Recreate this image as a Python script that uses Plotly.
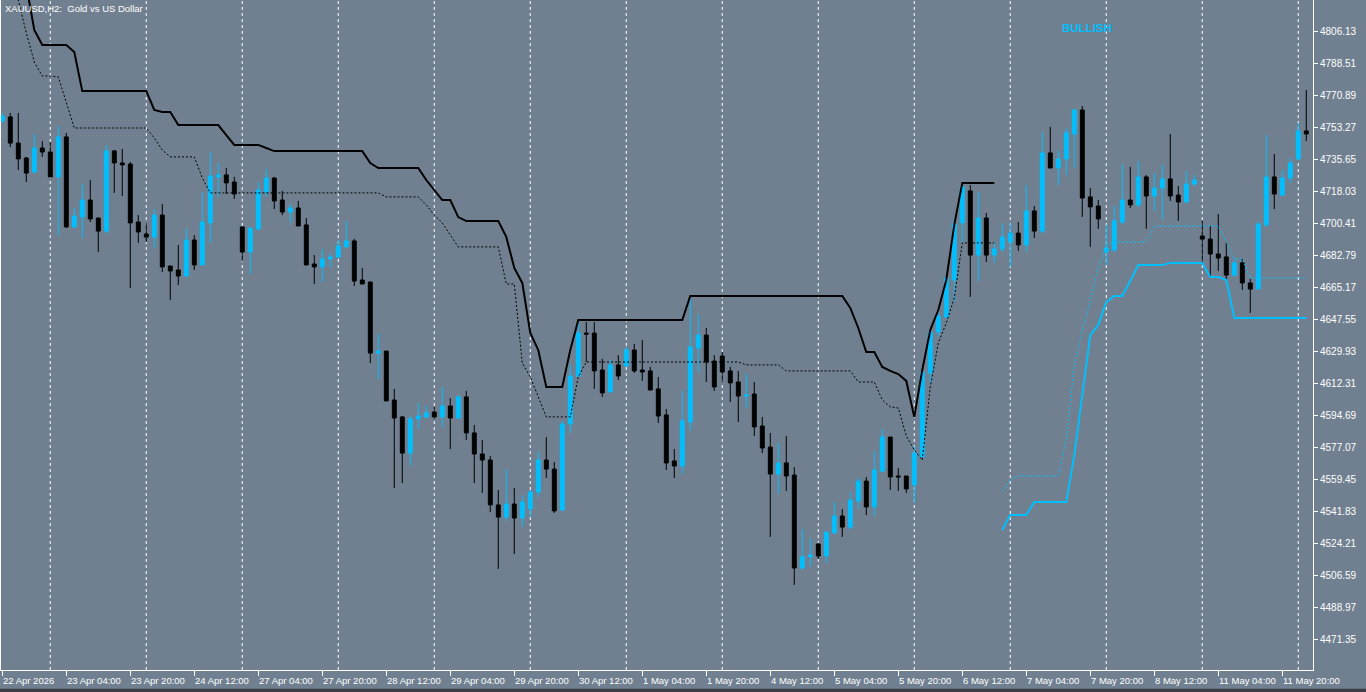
import plotly.graph_objects as go

# XAUUSD H2 bars, index 0..163 (gold vs US dollar)
opens = [4756.7, 4758.9, 4744.5, 4736.3, 4728.6, 4741.8, 4739.6, 4725.9, 4747.9, 4698.4,
         4703.9, 4713.2, 4703.3, 4696.1, 4740.2, 4733.6, 4733.0, 4701.1, 4694.5, 4692.8,
         4704.9, 4676.9, 4674.7, 4671.4, 4691.2, 4677.5, 4700.6, 4725.9, 4727.0, 4723.1,
         4698.4, 4684.6, 4697.2, 4717.6, 4725.3, 4713.2, 4706.6, 4708.8, 4699.5, 4678.0,
         4676.4, 4680.8, 4681.9, 4687.4, 4690.7, 4669.2, 4668.1, 4629.0, 4630.1, 4603.2,
         4593.9, 4574.0, 4592.8, 4593.9, 4596.6, 4593.9, 4599.9, 4593.3, 4604.9, 4585.1,
         4573.5, 4570.2, 4545.5, 4538.8, 4546.0, 4538.3, 4543.2, 4552.6, 4570.2, 4565.2,
         4542.7, 4590.0, 4616.4, 4640.0, 4640.0, 4619.7, 4607.6, 4622.5, 4621.9, 4630.7,
         4619.7, 4619.2, 4609.3, 4595.0, 4569.7, 4566.9, 4591.1, 4631.8, 4638.9, 4624.6,
         4627.4, 4619.2, 4613.1, 4605.4, 4606.5, 4588.9, 4577.3, 4562.5, 4568.6, 4561.9,
         4510.8, 4516.9, 4524.0, 4517.4, 4530.1, 4539.4, 4533.3, 4547.6, 4558.6, 4544.4,
         4564.1, 4582.8, 4561.4, 4561.4, 4556.5, 4571.9, 4618.1, 4640.6, 4648.8, 4669.2,
         4700.6, 4718.2, 4682.9, 4703.3, 4682.9, 4686.3, 4690.1, 4695.0, 4688.5, 4707.2,
         4696.1, 4739.1, 4730.8, 4735.8, 4749.5, 4762.7, 4714.9, 4709.9, 4684.6, 4685.7,
         4701.1, 4713.2, 4710.5, 4725.9, 4715.4, 4719.8, 4724.8, 4715.9, 4712.1, 4722.0,
         4693.4, 4691.7, 4683.5, 4681.9, 4671.9, 4678.6, 4667.6, 4664.2, 4699.5, 4725.9,
         4715.9, 4725.3, 4735.8, 4751.2]
highs = [4761.1, 4761.1, 4761.1, 4736.9, 4749.5, 4745.6, 4745.1, 4753.9, 4750.1, 4708.8,
         4722.0, 4724.2, 4703.3, 4743.5, 4740.7, 4741.3, 4734.1, 4704.9, 4700.5, 4708.2,
         4711.0, 4676.9, 4688.5, 4697.8, 4693.9, 4717.6, 4739.6, 4733.6, 4730.8, 4725.9,
         4698.4, 4697.8, 4723.1, 4730.3, 4725.9, 4718.2, 4711.0, 4712.7, 4703.3, 4682.9,
         4686.3, 4684.0, 4691.2, 4701.7, 4691.8, 4675.8, 4668.1, 4639.5, 4630.1, 4609.3,
         4594.4, 4594.4, 4601.6, 4599.9, 4599.4, 4610.4, 4604.3, 4605.9, 4608.2, 4589.5,
         4581.2, 4572.4, 4553.7, 4565.2, 4554.8, 4550.9, 4553.7, 4574.6, 4582.8, 4569.1,
         4591.7, 4622.5, 4645.6, 4646.1, 4646.1, 4625.8, 4625.2, 4627.9, 4632.4, 4634.0,
         4636.2, 4621.4, 4615.9, 4598.3, 4576.2, 4608.2, 4659.3, 4650.5, 4642.8, 4627.9,
         4629.6, 4621.4, 4619.2, 4617.5, 4613.1, 4593.9, 4585.1, 4579.6, 4583.4, 4566.3,
         4532.3, 4527.3, 4524.6, 4530.6, 4547.1, 4543.2, 4552.6, 4560.3, 4560.8, 4575.1,
         4587.2, 4582.8, 4565.8, 4561.4, 4577.9, 4619.7, 4641.7, 4652.2, 4670.9, 4702.8,
         4720.4, 4721.4, 4717.6, 4706.1, 4690.1, 4700.5, 4700.5, 4701.1, 4721.5, 4709.9,
         4750.6, 4753.4, 4740.2, 4752.8, 4763.3, 4764.9, 4719.8, 4713.2, 4699.5, 4709.9,
         4733.0, 4731.4, 4734.6, 4726.9, 4728.1, 4732.5, 4749.5, 4720.9, 4729.2, 4726.9,
         4701.7, 4698.9, 4705.5, 4690.1, 4680.8, 4680.8, 4669.8, 4701.1, 4748.9, 4738.5,
         4729.7, 4736.3, 4755.6, 4773.7]
lows = [4755.6, 4742.3, 4729.7, 4723.1, 4728.0, 4736.9, 4725.9, 4693.9, 4697.8, 4697.8,
        4692.3, 4701.1, 4684.6, 4695.0, 4717.1, 4715.4, 4664.8, 4689.6, 4690.1, 4686.8,
        4673.6, 4658.2, 4666.4, 4670.9, 4674.7, 4677.5, 4689.6, 4714.9, 4716.5, 4713.8,
        4679.6, 4672.5, 4696.7, 4714.9, 4708.2, 4704.9, 4700.6, 4698.9, 4677.5, 4667.0,
        4668.1, 4676.4, 4681.3, 4687.4, 4665.9, 4667.0, 4623.5, 4614.8, 4602.7, 4554.8,
        4557.5, 4567.4, 4587.2, 4593.3, 4592.8, 4588.4, 4576.2, 4592.8, 4581.2, 4557.5,
        4552.1, 4541.6, 4510.3, 4536.7, 4518.5, 4533.4, 4538.8, 4549.9, 4560.3, 4541.1,
        4542.2, 4585.1, 4615.9, 4624.1, 4609.3, 4604.9, 4607.6, 4614.2, 4621.4, 4618.1,
        4613.7, 4608.7, 4590.6, 4564.7, 4560.3, 4562.5, 4586.2, 4618.6, 4613.1, 4608.2,
        4613.1, 4602.1, 4591.1, 4598.8, 4583.4, 4574.0, 4527.9, 4551.5, 4553.2, 4501.5,
        4509.7, 4511.4, 4515.8, 4513.6, 4529.5, 4527.9, 4531.7, 4543.2, 4539.9, 4539.4,
        4563.6, 4553.7, 4553.2, 4552.1, 4546.5, 4571.9, 4612.6, 4637.9, 4648.3, 4657.1,
        4690.1, 4659.9, 4668.7, 4679.1, 4678.6, 4684.6, 4676.4, 4685.2, 4684.6, 4692.3,
        4695.0, 4730.8, 4721.5, 4726.9, 4730.8, 4703.9, 4687.4, 4697.3, 4677.5, 4684.6,
        4700.0, 4708.8, 4709.4, 4697.3, 4707.2, 4702.2, 4712.7, 4701.7, 4712.1, 4720.9,
        4678.6, 4670.9, 4674.2, 4669.2, 4670.9, 4663.7, 4651.1, 4664.2, 4698.4, 4708.2,
        4715.4, 4722.6, 4735.2, 4745.6]
closes = [4759.4, 4744.5, 4735.8, 4728.0, 4741.8, 4739.6, 4725.9, 4747.9, 4698.4, 4704.4,
          4713.2, 4702.8, 4696.1, 4740.2, 4733.6, 4732.5, 4700.6, 4695.6, 4692.8, 4704.9,
          4676.4, 4674.2, 4671.4, 4691.2, 4677.5, 4701.1, 4726.4, 4727.0, 4722.6, 4716.5,
          4684.6, 4697.8, 4718.7, 4725.3, 4712.7, 4706.6, 4708.8, 4698.9, 4677.5, 4676.4,
          4680.8, 4681.9, 4687.9, 4690.7, 4668.6, 4667.0, 4629.0, 4630.1, 4602.7, 4593.3,
          4574.0, 4592.8, 4594.4, 4596.1, 4593.9, 4599.9, 4593.3, 4604.9, 4585.1, 4573.5,
          4570.2, 4545.5, 4538.8, 4546.0, 4538.3, 4547.1, 4552.6, 4570.2, 4565.2, 4542.2,
          4590.0, 4616.4, 4640.0, 4639.5, 4619.2, 4607.1, 4622.5, 4616.4, 4630.7, 4619.2,
          4618.6, 4608.7, 4594.4, 4568.6, 4566.9, 4591.7, 4632.4, 4638.9, 4624.1, 4610.4,
          4618.6, 4612.6, 4605.4, 4605.9, 4588.4, 4576.8, 4562.5, 4568.6, 4561.4, 4510.8,
          4516.9, 4518.0, 4517.4, 4530.6, 4539.4, 4533.3, 4548.2, 4558.6, 4544.4, 4564.7,
          4582.8, 4560.9, 4560.9, 4554.3, 4574.0, 4618.6, 4640.6, 4649.4, 4670.3, 4700.0,
          4720.4, 4682.9, 4703.3, 4682.9, 4686.3, 4692.8, 4695.0, 4688.5, 4707.2, 4696.1,
          4739.1, 4730.8, 4735.8, 4750.1, 4762.7, 4714.3, 4709.4, 4702.8, 4686.8, 4701.7,
          4713.2, 4710.5, 4725.9, 4715.4, 4719.8, 4724.8, 4715.4, 4712.1, 4722.0, 4724.2,
          4691.7, 4683.5, 4681.3, 4671.9, 4678.6, 4667.6, 4664.2, 4700.0, 4725.9, 4716.5,
          4725.3, 4733.6, 4751.2, 4749.5]

# trailing stop lines (bearish = black, bullish = blue)
bear_stop = ([None, None, 4856.2, 4830.4, 4806.7] + [4798.5] * 4 + [4794.6] + [4773.1] * 9
             + [4762.7, 4761.6, 4761.6] + [4754.4] * 6 + [4748.9] + [4743.5] * 4 + [4741.8]
             + [4740.1] * 12 + [4733.5] + [4730.8] * 6 + [4724.2, 4718.7, 4713.2, 4713.2, 4703.8]
             + [4701.6] * 5 + [4692.9, 4675.8, 4667.6, 4640.1, 4630.7] + [4610.4] * 3 + [4630.7]
             + [4647.2] * 14 + [4660.4] * 20
             + [4653.8, 4642.8, 4629.6, 4629.6, 4621.4, 4619.2, 4617.5, 4613.7, 4593.9,
                4619.7, 4641.7, 4652.7, 4669.2, 4699.5] + [4722.6] * 5 + [None] * 39)
bear_mid = ([None, 4845.2, 4823.2, 4805.1, 4789.1, 4781.4, 4781.4, 4780.9, 4766.6] + [4752.8] * 10
            + [4747.3, 4740.7] + [4736.9] * 4 + [4725.3] + [4717.1] * 22 + [4714.9] * 5
            + [4710.5, 4705.0, 4700.6, 4693.9] + [4687.4] * 6
            + [4667.0, 4667.0, 4623.5, 4615.9, 4604.9] + [4593.9] * 4 + [4615.9]
            + [4624.1] * 20 + [4622.5] * 5 + [4619.2] * 9 + [4613.1] * 3
            + [4603.2, 4599.4, 4598.8, 4583.4, 4575.7, 4570.2, 4610.4, 4634.5, 4645.6, 4659.3]
            + [4689.6] * 5 + [None] * 39)
bull_stop = ([None] * 125 + [4531.7, 4539.9, 4539.9, 4539.9] + [4547.1] * 5
             + [4572.9, 4607.1, 4638.9, 4644.5, 4657.1, 4660.4, 4660.4, 4668.6] + [4677.4] * 4
             + [4678.6] * 5 + [4670.9, 4670.9, 4669.2] + [4648.3] * 10)
bull_mid = ([None] * 125 + [4552.6, 4559.7] + [4561.4] * 6
            + [4581.2, 4621.9, 4641.7, 4657.7, 4675.8, 4687.9] + [4690.1] * 5 + [4698.9] * 9
            + [4690.1, 4680.8, 4680.8] + [4670.3] * 8)

tick_labels = ["22 Apr 2026", "23 Apr 04:00", "23 Apr 20:00", "24 Apr 12:00", "27 Apr 04:00",
               "27 Apr 20:00", "28 Apr 12:00", "29 Apr 04:00", "29 Apr 20:00", "30 Apr 12:00",
               "1 May 04:00", "1 May 20:00", "4 May 12:00", "5 May 04:00", "5 May 20:00",
               "6 May 12:00", "7 May 04:00", "7 May 20:00", "8 May 12:00", "11 May 04:00",
               "11 May 20:00"]
tick_bars = list(range(0, 168, 8))
midnight_bars = list(range(6, 164, 12))
price_ticks = [round(4471.35 + 17.62 * k, 2) for k in range(20)]

BG = "#708090"
BLUE = "#00BFFF"
bars = list(range(len(opens)))

fig = go.Figure()
fig.add_trace(go.Candlestick(
    x=bars, open=opens, high=highs, low=lows, close=closes,
    increasing=dict(line=dict(color=BLUE, width=1), fillcolor=BLUE),
    decreasing=dict(line=dict(color="black", width=1), fillcolor="black"),
    whiskerwidth=0, showlegend=False, hoverinfo="skip"))
fig.add_trace(go.Scatter(x=bars, y=bear_mid, mode="lines",
                         line=dict(color="black", width=1, dash="2px,2px"), hoverinfo="skip"))
fig.add_trace(go.Scatter(x=bars, y=bear_stop, mode="lines",
                         line=dict(color="black", width=2), hoverinfo="skip"))
fig.add_trace(go.Scatter(x=bars, y=bull_mid, mode="lines",
                         line=dict(color=BLUE, width=1, dash="2px,2px"), hoverinfo="skip"))
fig.add_trace(go.Scatter(x=bars, y=bull_stop, mode="lines",
                         line=dict(color=BLUE, width=2), hoverinfo="skip"))

# day separators
for b in midnight_bars:
    fig.add_shape(type="line", xref="x", yref="paper", x0=b, x1=b, y0=0, y1=1,
                  line=dict(color="white", width=1, dash="3px,3px"), layer="below")

for b, lab in zip(tick_bars, tick_labels):
    fig.add_annotation(x=b, y=0, xref="x", yref="paper", text=lab, showarrow=False,
                       xanchor="left", yanchor="top", xshift=-1, yshift=-3,
                       font=dict(family="Liberation Sans", size=9.5, color="white"))

fig.add_annotation(x=0, y=1, xref="paper", yref="paper", text="XAUUSD,H2:  Gold vs US Dollar",
                   showarrow=False, xanchor="left", yanchor="top", xshift=2, yshift=-1,
                   font=dict(family="Liberation Sans", size=9.5, color="white"))
fig.add_annotation(x=135.6, y=4807.8, text="<b>BULLISH</b>", showarrow=False,
                   xanchor="center", yanchor="middle",
                   font=dict(family="Liberation Sans", size=11.5, color=BLUE))

# scrollbar strip under the chart
fig.add_shape(type="rect", xref="paper", yref="paper", x0=-0.01, x1=1.05, y0=-0.034, y1=-0.028,
              fillcolor="#3b3e44", line=dict(width=0))

fig.update_layout(
    width=1366, height=692,
    margin=dict(l=1, r=53, t=0, b=22, autoexpand=False),
    paper_bgcolor=BG, plot_bgcolor=BG,
    showlegend=False,
    font=dict(family="Liberation Sans", color="white"),
    xaxis=dict(range=[-0.16, 163.84], rangeslider=dict(visible=False),
               tickvals=tick_bars, ticks="outside", ticklen=5, tickcolor="white",
               showticklabels=False, showgrid=False, zeroline=False,
               showline=True, linecolor="white", linewidth=1, mirror=True),
    yaxis=dict(range=[4454.7, 4823.2], side="right", tickvals=price_ticks,
               ticktext=["%.2f" % p for p in price_ticks],
               ticks="outside", ticklen=4, tickcolor="white",
               tickfont=dict(family="Liberation Sans", size=10, color="white"),
               showgrid=False, zeroline=False,
               showline=True, linecolor="white", linewidth=1, mirror=True),
)

fig.write_html("out.html", config={"displayModeBar": False},
               post_script="document.body.style.margin='0px';")
